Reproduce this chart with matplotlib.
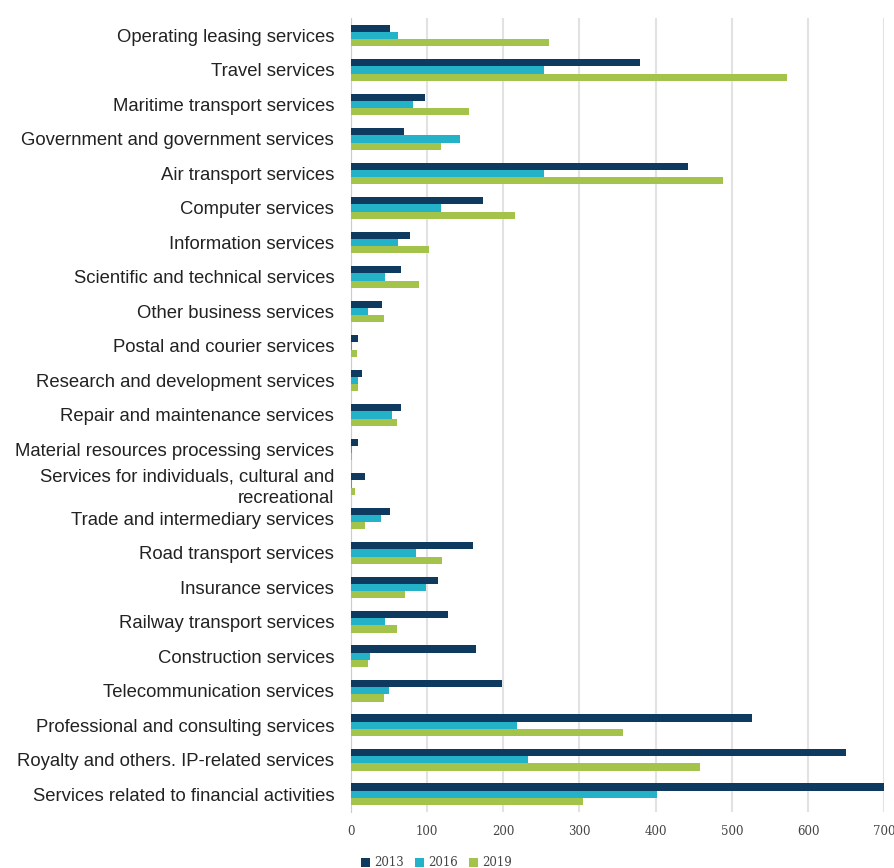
import matplotlib
matplotlib.use("Agg")
import matplotlib.pyplot as plt
import numpy as np

# categories, top to bottom
categories = [
    "Operating leasing services",
    "Travel services",
    "Maritime transport services",
    "Government and government services",
    "Air transport services",
    "Computer services",
    "Information services",
    "Scientific and technical services",
    "Other business services",
    "Postal and courier services",
    "Research and development services",
    "Repair and maintenance services",
    "Material resources processing services",
    "Services for individuals, cultural and\nrecreational",
    "Trade and intermediary services",
    "Road transport services",
    "Insurance services",
    "Railway transport services",
    "Construction services",
    "Telecommunication services",
    "Professional and consulting services",
    "Royalty and others. IP-related services",
    "Services related to financial activities",
]
v2013 = [52, 380, 97, 70, 443, 173, 77, 66, 41, 9, 14, 66, 9, 18,
         51, 160, 114, 127, 164, 199, 527, 650, 702]
v2016 = [62, 254, 81, 143, 253, 118, 62, 45, 22, 2, 9, 54, 2, 1,
         39, 85, 99, 45, 25, 50, 218, 233, 402]
v2019 = [260, 573, 155, 118, 488, 215, 103, 90, 43, 8, 10, 60, 1, 6,
         18, 120, 71, 60, 23, 44, 357, 458, 305]
years = ["2013", "2016", "2019"]
colors = ["#0f3a60", "#23b2c8", "#a4c34a"]

fig = plt.figure(figsize=(8.95, 8.68), dpi=100)
ax = fig.add_axes([0.392, 0.065, 0.596, 0.914])

y = np.arange(len(categories))
h = 0.21
for i, (vals, yr, c) in enumerate(zip([v2013, v2016, v2019], years, colors)):
    ax.barh(y + (i - 1) * h, vals, height=h, color=c, label=yr, zorder=3)

ax.set_ylim(len(categories) - 0.5, -0.5)
ax.set_xlim(0, 700)
ax.set_xticks(range(0, 701, 100))
ax.set_yticks(y)
ax.set_yticklabels(categories, fontsize=13.3, fontfamily="Liberation Sans",
                   color="#222222", linespacing=1.3)
for lab in ax.get_xticklabels():
    lab.set_fontfamily("DejaVu Serif")
    lab.set_fontsize(8.5)
    lab.set_color("#444444")
ax.tick_params(axis="both", length=0)
ax.tick_params(axis="x", pad=10)
ax.tick_params(axis="y", pad=12)
ax.grid(axis="x", color="#e2e2e2", linewidth=1.5, zorder=0)
for s in ["top", "right", "bottom"]:
    ax.spines[s].set_visible(False)
ax.spines["left"].set_color("#cccccc")

leg = ax.legend(loc="upper left", bbox_to_anchor=(0.0, -0.043), ncol=3,
                frameon=False, handlelength=0.75, handleheight=0.75,
                handletextpad=0.3, columnspacing=1.0,
                prop={"family": "DejaVu Serif", "size": 8.5})
for t in leg.get_texts():
    t.set_color("#444444")

fig.savefig("out.png", dpi=100)
